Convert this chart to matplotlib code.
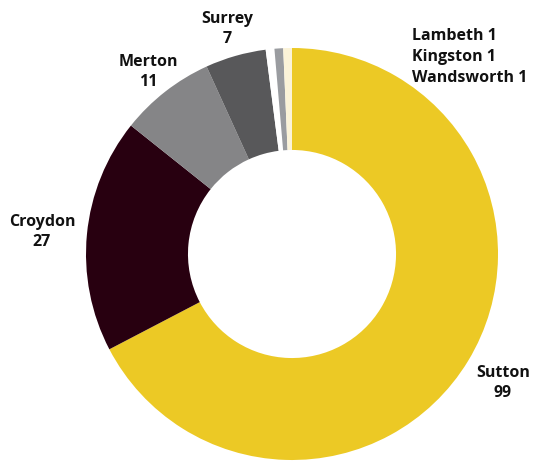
import matplotlib

matplotlib.use("Agg")
import matplotlib.pyplot as plt

# Boroughs, clockwise from 12 o'clock
boroughs = ["Sutton", "Croydon", "Merton", "Surrey", "Wandsworth", "Kingston", "Lambeth"]
counts = [99, 27, 11, 7, 1, 1, 1]
colors = ["#ecc925", "#280010", "#858587", "#58585a", "#ffffff", "#9a9ca0", "#fbf3d8"]

W, H = 533, 461
CX, CY, R = 292, 254, 206

plt.rcParams["font.family"] = ["Open Sans", "DejaVu Sans"]

fig = plt.figure(figsize=(W / 100, H / 100), dpi=100)
ax = fig.add_axes([(CX - R) / W, (H - CY - R) / H, 2 * R / W, 2 * R / H])

ax.pie(
    counts,
    colors=colors,
    startangle=90,
    counterclock=False,
    radius=1.0,
    wedgeprops=dict(width=0.495, linewidth=0),
)
ax.set_xlim(-1, 1)
ax.set_ylim(-1, 1)
ax.set_aspect("equal")
ax.axis("off")


def px(x, y):
    """Pixel position -> data coordinates of the pie axes."""
    return (x - CX) / R, (CY - y) / R


value_of = dict(zip(boroughs, counts))
text_style = dict(fontsize=11.5, fontweight="bold", color="#111111", linespacing=1.38)

for name, (x, y) in {
    "Surrey": (227, 29),
    "Merton": (148, 72),
    "Croydon": (42, 232),
    "Sutton": (503, 383),
}.items():
    ax.text(*px(x, y), f"{name}\n{value_of[name]}", ha="center", va="center",
            clip_on=False, **text_style)

small = "\n".join(f"{n} {value_of[n]}" for n in ["Lambeth", "Kingston", "Wandsworth"])
ax.text(*px(412, 57), small, ha="left", va="center", clip_on=False, **text_style)

fig.savefig("out.png", dpi=100)
